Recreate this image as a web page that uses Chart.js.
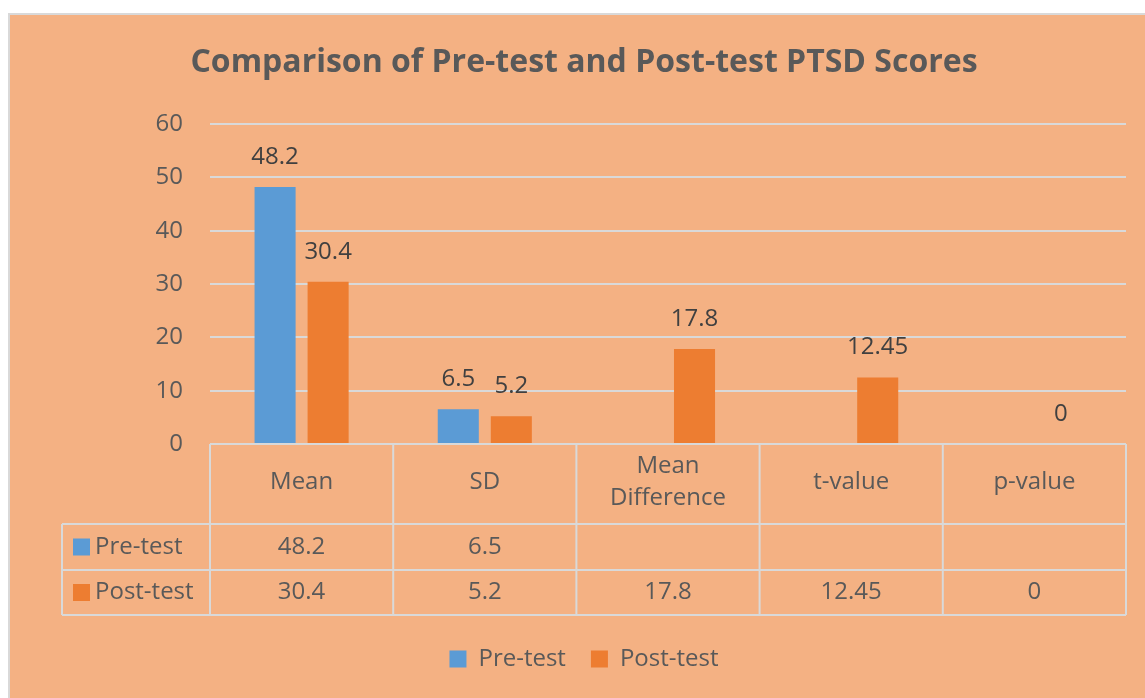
<!DOCTYPE html>
<html>
<head>
<meta charset="utf-8">
<script src="https://cdn.jsdelivr.net/npm/chart.js@4.4.1/dist/chart.umd.min.js"></script>
<style>
  html, body { margin: 0; padding: 0; background: #ffffff; width: 1145px; height: 698px; overflow: hidden; }
  #frame { position: absolute; left: 8px; top: 13px; width: 1160px; height: 720px; background: #F4B183; border-left: 2px solid #D9D9D9; border-top: 2px solid #D9D9D9; }
  #wrap { position: absolute; left: 0; top: 0; width: 1145px; height: 698px; }
</style>
</head>
<body>
<div id="frame"></div>
<div id="wrap"><canvas id="c" width="1145" height="698"></canvas></div>
<script>
const categories = ['Mean', 'SD', ['Mean', 'Difference'], 't-value', 'p-value'];
const seriesNames = ['Pre-test', 'Post-test'];
const preTest = [48.2, 6.5, null, null, null];
const postTest = [30.4, 5.2, 17.8, 12.45, 0];
const yMin = 0, yMax = 60, yStep = 10;

const FONT = '"Open Sans", Lato, sans-serif';
const TEXT = '#595959';
const GRID = '#D9D9D9';
const BLUE = '#5B9BD5';
const ORANGE = '#ED7D31';

const fmt = v => (v === null || v === undefined) ? '' : String(v);

const barLabelPlugin = {
  id: 'barLabels',
  afterDatasetsDraw(chart) {
    const ctx = chart.ctx;
    ctx.save();
    ctx.font = '24px ' + FONT;
    ctx.fillStyle = '#404040';
    ctx.textAlign = 'center';
    ctx.textBaseline = 'middle';
    chart.data.datasets.forEach((ds, di) => {
      const meta = chart.getDatasetMeta(di);
      meta.data.forEach((bar, i) => {
        const v = ds.data[i];
        if (v === null || v === undefined) return;
        ctx.fillText(fmt(v), bar.x, bar.y - 30);
      });
    });
    ctx.restore();
  }
};

const tablePlugin = {
  id: 'dataTable',
  afterDraw(chart) {
    const ctx = chart.ctx;
    const xs = chart.scales.x;
    const n = categories.length;
    const colW = (xs.right - xs.left) / n;
    const top = chart.chartArea.bottom;
    const hdrBottom = top + 80;
    const row1Bottom = hdrBottom + 46;
    const row2Bottom = row1Bottom + 45;
    const tableLeft = 62;
    ctx.save();
    ctx.strokeStyle = GRID;
    ctx.lineWidth = 2;
    ctx.beginPath();
    ctx.moveTo(xs.left, top); ctx.lineTo(xs.right, top);
    [hdrBottom, row1Bottom, row2Bottom].forEach(y => { ctx.moveTo(tableLeft, y); ctx.lineTo(xs.right, y); });
    for (let i = 0; i <= n; i++) {
      const x = xs.left + i * colW;
      ctx.moveTo(x, top); ctx.lineTo(x, row2Bottom);
    }
    ctx.moveTo(tableLeft, hdrBottom); ctx.lineTo(tableLeft, row2Bottom);
    ctx.stroke();

    const rows = [
      { name: seriesNames[0], color: BLUE, vals: preTest, y: (hdrBottom + row1Bottom) / 2 },
      { name: seriesNames[1], color: ORANGE, vals: postTest, y: (row1Bottom + row2Bottom) / 2 }
    ];
    ctx.font = '24px ' + FONT;
    ctx.textBaseline = 'middle';
    rows.forEach(r => {
      ctx.fillStyle = r.color;
      ctx.fillRect(73, r.y - 8.5, 17, 17);
      ctx.fillStyle = TEXT;
      ctx.textAlign = 'left';
      ctx.fillText(r.name, 95, r.y);
      ctx.textAlign = 'center';
      r.vals.forEach((v, i) => {
        ctx.fillText(fmt(v), xs.getPixelForValue(i), r.y);
      });
    });
    ctx.restore();
  }
};

new Chart(document.getElementById('c'), {
  type: 'bar',
  data: {
    labels: categories,
    datasets: [
      { label: seriesNames[0], data: preTest, backgroundColor: BLUE, categoryPercentage: 0.579, barPercentage: 0.774 },
      { label: seriesNames[1], data: postTest, backgroundColor: ORANGE, categoryPercentage: 0.579, barPercentage: 0.774 }
    ]
  },
  options: {
    responsive: false,
    animation: false,
    layout: { padding: { left: 42, right: 19, top: 0, bottom: 17 } },
    plugins: {
      title: {
        display: true,
        text: 'Comparison of Pre-test and Post-test PTSD Scores',
        color: TEXT,
        font: { family: FONT, size: 32, weight: 'bold', lineHeight: 1.2 },
        padding: { top: 44, bottom: 41.6 }
      },
      legend: {
        display: true,
        position: 'bottom',
        labels: {
          color: TEXT,
          font: { family: FONT, size: 24 },
          boxWidth: 17,
          boxHeight: 17,
          padding: 25
        }
      },
      tooltip: { enabled: false }
    },
    scales: {
      x: {
        grid: { display: false, drawTicks: false },
        border: { display: false },
        ticks: {
          color: TEXT,
          font: { family: FONT, size: 24, lineHeight: 1.333 },
          maxRotation: 0,
          autoSkip: false,
          padding: 22,
          crossAlign: 'center'
        },
        afterFit(scale) { scale.height = 178; }
      },
      y: {
        min: yMin, max: yMax,
        grid: { color: GRID, lineWidth: 2, drawTicks: false },
        border: { display: false },
        ticks: {
          stepSize: yStep,
          color: TEXT,
          font: { family: FONT, size: 24 },
          padding: 27
        },
        afterFit(scale) { scale.width = 168; }
      }
    }
  },
  plugins: [barLabelPlugin, tablePlugin]
});
</script>
</body>
</html>
